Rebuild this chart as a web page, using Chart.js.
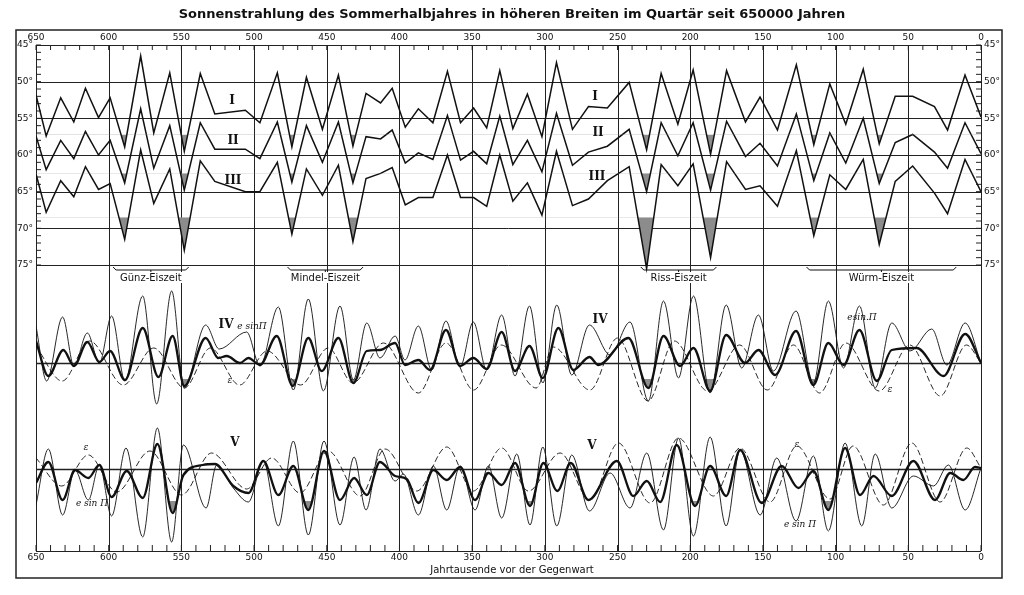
<!DOCTYPE html>
<html><head><meta charset="utf-8">
<script src="https://cdn.jsdelivr.net/npm/chart.js@4.4.1/dist/chart.umd.min.js"></script>
<style>html,body{margin:0;padding:0;background:#fff}#w{width:1024px;height:595px}</style>
</head><body><div id="w"><canvas id="c"></canvas></div>
<script>
const TITLE = "Sonnenstrahlung des Sommerhalbjahres in höheren Breiten im Quartär seit 650000 Jahren";
const X_TITLE = "Jahrtausende vor der Gegenwart";
const xTicks = [650,600,550,500,450,400,350,300,250,200,150,100,50,0];
const latTicks = [45,50,55,60,65,70,75];
const iceAges = [["Günz-Eiszeit",597,545],["Mindel-Eiszeit",477,425],["Riss-Eiszeit",234,182],["Würm-Eiszeit",120,17]];

const tTop = [650,643,633,624,616,607,599,589,578,569,558,548,537,527,506,496,484,474,464,453,442,432,423,413,405,396,387,377,367,358,349,340,331,322,312,302,292,281,270,257,242,230,220,208.5,198,186,175,162,152,140,127,115,104,93,81,70,59,47,32,23,11,0];
const lat1 = [51.8,57.4,52.2,55.5,50.9,54.9,52.2,58.9,46.5,57,48.8,59.5,48.9,54.4,53.9,55.6,48.8,58.9,49.4,56.5,49.1,58.8,51.6,52.9,50.9,56.2,53.7,55.6,48.6,55.6,53.6,56.3,48.5,56.4,51.7,57.5,47.4,56.5,53.4,53.6,50.1,59.3,48.9,55.8,48.4,59.9,48.5,55.5,52.1,56.6,47.7,58.6,50.3,55.8,48.3,58.5,52,52,53.4,56.6,49.1,54.8];
const lat2 = [57.4,62,58,60.5,56.8,60,58,63.8,53.7,61.8,56,64.8,55.6,59.2,59.2,60.5,55.5,63.7,56,61,55.5,63.8,57.5,57.8,56.6,61.1,59.7,60.6,54.6,60.7,59.5,61.2,54.7,61.3,58,62.3,54.3,61.4,59.6,58.8,56.5,65,55.6,60.1,55.6,64.8,55.4,60.2,58.4,61.5,54.4,63.5,57,61.1,55,63.9,58.3,57.2,59.6,61.8,55.6,59.8];
const lat3 = [62.6,67.8,63.5,65.7,61.6,64.7,63.9,71.5,59.3,66.6,61.9,73,60.8,63.6,65,65,61,70.8,61.9,65.5,61.4,71.8,63.2,62.5,61.7,66.8,65.8,65.8,60,65.8,65.8,67,60,66.3,63.8,68.2,59.5,66.9,66,63.5,61.6,75.5,61.3,64.2,61.2,74,60.9,64.7,64.2,67,59.4,71,62.7,64.7,60.6,72.2,63.6,61.5,65.2,68,60.6,65];

const ivThin = [[650,37],[642.7,-18],[631.7,46],[623.9,-3],[614.7,30],[606.4,0],[598,47],[588.8,-18],[576.6,67],[567,-41],[556.7,72],[548,-25],[533.3,38],[524,14],[505.1,31],[495.9,-3],[483.3,56],[473,-27],[462.7,64],[452.3,-28],[440.9,57],[431.7,-17],[422.5,40],[413.4,5],[403,27],[396.2,3],[387,37],[377.8,-7],[368,42],[358.3,-4],[349.2,41],[340,-7],[329.7,48],[320.5,-13],[310.6,57],[301.4,-20],[291.8,58],[281.5,-12],[269.3,38],[255.1,8],[241.4,41],[228.8,-38],[218.4,62],[208.1,-15],[197.8,67],[186.3,-30],[175.3,58],[164.6,-5],[153.1,48],[142.8,-8],[127.2,52],[115.3,-20],[105,62],[94.6,-5],[83.6,57],[72.8,-25],[61.4,40],[48.8,12],[33.9,34],[23.5,-2],[10.9,40],[0,0]];
const ivEps = [[650,17],[632,-18],[613,22],[590,-22],[569,15],[548,-25],[530,15],[510,-22],[491,12],[468,-22],[449,15],[432,-20],[411,20],[387,-30],[368,20],[349,-27],[330,18],[306,-25],[294,16],[269,-27],[250,25],[229,-38],[211,22],[188,-28],[166,18],[147,-27],[129,18],[111,-30],[93,20],[70,-28],[49,18],[28,-33],[10,18],[0,0]];
const ivSum = [[650,22],[641.5,-13],[631.2,13],[623.9,-3],[614.7,21],[606.4,1],[599.1,12],[588.8,-17],[576.6,35],[565.8,-14],[556,27],[548,-23],[533.3,25],[524.6,5],[518.8,7],[509.7,0],[503.9,5],[495.9,-2],[484.4,27],[473.4,-23],[462.7,25],[453.5,-8],[442,25],[431.7,-20],[422.5,12],[413.4,13],[403,20],[396.2,-2],[387,3],[379,-7],[368,33],[358.3,-3],[349.2,5],[340,-6],[329.7,31],[320.5,-8],[310.6,17],[301.4,-15],[290.7,35],[280.4,-7],[269.3,6],[263.2,-2],[242.5,25],[228.8,-25],[218.4,27],[207,-3],[197.8,15],[186.3,-28],[175.3,28],[162.3,0],[153.1,13],[141.6,-12],[127.2,32],[115.3,-22],[105,20],[94.6,-2],[83.6,33],[71.7,-18],[61.4,13],[44.2,15],[25.8,-13],[10.9,29],[0,0]];

const vThin = [[650,-36],[641.5,20],[631.7,-46],[623.2,-1],[614,-31],[606.4,4],[598,-47],[588.1,21],[576.6,-68],[566.5,41],[556.7,-73],[548.6,24],[533,-39],[525.7,4],[514.3,-19],[503.9,-33],[493.6,8],[483.3,-57],[473,28],[462.7,-66],[451.9,28],[440.9,-56],[431.2,12],[423,-41],[413.4,20],[403,-12],[397.3,-5],[387,-46],[376.7,3],[367.5,-41],[358.3,3],[348,-41],[338.8,3],[329.7,-49],[319.3,15],[310.2,-56],[301.4,22],[291.8,-57],[281.5,14],[269.3,-42],[255.1,-4],[241.4,-39],[229.9,16],[218.4,-61],[208.1,31],[197.8,-67],[186.3,32],[175.3,-57],[165.7,19],[151.9,-46],[140.5,11],[127.2,-52],[115.3,13],[105,-62],[93.5,26],[82,-57],[72.8,15],[61.4,-39],[46.5,-7],[32.7,-17],[22.4,4],[10.9,-41],[0,1]];
const vEps = [[650,11],[632.3,-17],[614,14],[594.5,-23],[571.6,18],[549.8,-26],[529.2,16],[505.1,-20],[487.9,11],[468.4,-24],[449,18],[427.1,-27],[409.9,20],[388.1,-22],[367.5,22],[349.2,-22],[329.7,21],[311.3,-22],[289.5,16],[268.9,-31],[249.4,26],[227.6,-34],[208.1,31],[184,-27],[165.7,21],[145.1,-33],[126.7,23],[103.8,-30],[88,23],[67.1,-36],[47.6,26],[28.1,-33],[9.8,21],[0,1]];
const vSum = [[650,-14],[641.5,7],[631.7,-31],[623.2,-1],[614,-9],[606.4,4],[598,-28],[587.6,-2],[576.6,-29],[566.5,25],[556,-44],[548.6,-6],[535.3,4],[526.9,5],[514.3,-17],[503.9,-24],[493.6,8],[483.3,-26],[473,3],[462.7,-41],[451.9,18],[440.9,-31],[431.2,-9],[422.5,-26],[413.4,7],[403,-7],[395,-10],[387,-34],[376.7,-1],[367.5,-11],[358.3,2],[348,-31],[338.8,-4],[329.7,-16],[320.5,6],[310.2,-37],[301,6],[291.4,-22],[282.2,6],[270,-31],[250.5,8],[239.1,-27],[229.9,-12],[220.7,-33],[209.3,24],[196.7,-37],[186.3,3],[175.3,-27],[165.7,19],[150.8,-34],[137.1,3],[125.6,-19],[115.3,-2],[105,-41],[93.5,21],[83.2,-26],[74,-7],[61.4,-27],[46.5,8],[31.6,-31],[21.2,-4],[12.1,-11],[4.1,2],[0,1]];

const P = a => a.map(p => ({x:p[0], y:p[1]}));
const topPts = (arr) => tTop.map((t,i)=>({x:t,y:arr[i]}));
const hatch = '#8c8c8c';
function topDs(arr, thr){ return {data:topPts(arr), yAxisID:'yT', borderColor:'#111', borderWidth:1.5, pointRadius:0, tension:0,
  fill:{target:{value:thr}, above:'rgba(0,0,0,0)', below:hatch}}; }
function smooth(arr, axis, w, dash, fill){ const d={data:P(arr), yAxisID:axis, borderColor:'#111', borderWidth:w, borderDash:dash||[], pointRadius:0, cubicInterpolationMode:'monotone', fill:false};
  if(fill!==undefined) d.fill={target:{value:fill}, above:'rgba(0,0,0,0)', below:hatch}; return d; }

const deco = {
  id:'deco',
  beforeDatasetsDraw(ch){
    const c=ch.ctx, x=ch.scales.x, yT=ch.scales.yT, yI=ch.scales.yI, yV=ch.scales.yV, a=ch.chartArea;
    c.save(); c.strokeStyle='#222'; c.lineWidth=1;
    const L=a.left, R=a.right;
    xTicks.forEach(t=>{const px=Math.round(x.getPixelForValue(t))+0.5; c.beginPath(); c.moveTo(px,a.top); c.lineTo(px,a.bottom); c.stroke();});
    latTicks.forEach(v=>{const py=Math.round(yT.getPixelForValue(v))+0.5; c.beginPath(); c.moveTo(L,py); c.lineTo(R,py); c.stroke();});
    [yI,yV].forEach(s=>{const py=Math.round(s.getPixelForValue(0))+0.5; c.lineWidth=1.3; c.beginPath(); c.moveTo(L,py); c.lineTo(R,py); c.stroke();});
    c.lineWidth=1;
    c.beginPath(); c.moveTo(L,a.bottom+0.5); c.lineTo(R,a.bottom+0.5); c.stroke();
    for(let t=0;t<=650;t+=10){const px=x.getPixelForValue(t); c.beginPath(); c.moveTo(px,a.top); c.lineTo(px,a.top+5); c.stroke(); c.beginPath(); c.moveTo(px,a.bottom); c.lineTo(px,a.bottom-6); c.stroke();}
    for(let v=45;v<=75;v++){const py=yT.getPixelForValue(v); c.beginPath(); c.moveTo(L,py); c.lineTo(L+5,py); c.moveTo(R,py); c.lineTo(R-5,py); c.stroke();}
    c.lineWidth=1.5; c.strokeRect(16,30,986,548);
    c.restore();
  },
  afterDatasetsDraw(ch){
    const c=ch.ctx, x=ch.scales.x, yT=ch.scales.yT, a=ch.chartArea;
    c.save(); c.fillStyle='#111'; c.strokeStyle='#111';
    c.font='bold 13px "DejaVu Sans"'; c.textAlign='center'; c.textBaseline='middle';
    c.fillText(TITLE, 512, 15);
    c.font='9px "DejaVu Sans"';
    xTicks.forEach(t=>{const px=x.getPixelForValue(t); c.fillText(String(t),px,38); c.fillText(String(t),px,558);});
    c.font='10px "DejaVu Sans"'; c.fillText(X_TITLE, 512, 570);
    c.font='9px "DejaVu Sans"';
    latTicks.forEach(v=>{const py=yT.getPixelForValue(v); c.textAlign='right'; c.fillText(v+'°',a.left-3,py); c.textAlign='left'; c.fillText(v+'°',a.right+3,py);});
    c.textAlign='center'; c.lineWidth=1; c.font='10px "DejaVu Sans"';
    iceAges.forEach(([n,t0,t1])=>{const p0=x.getPixelForValue(t0), p1=x.getPixelForValue(t1), y=270;
      c.beginPath(); c.moveTo(p0,y-3); c.lineTo(p0+3,y); c.lineTo(p1-3,y); c.lineTo(p1,y-3); c.moveTo((p0+p1)/2,y); c.lineTo((p0+p1)/2,y+3); c.stroke();
      c.fillStyle='#fff'; const w=c.measureText(n).width; c.fillRect((p0+p1)/2-w/2-1,272,w+2,11); c.fillStyle='#111'; c.fillText(n,(p0+p1)/2,278);});
    c.font='bold 12px "DejaVu Serif"';
    [['I',232,101],['II',233,141],['III',233,181],['I',595,97],['II',598,133],['III',597,177],['IV',226,325],['IV',600,320],['V',235,443],['V',592,446]].forEach(l=>c.fillText(l[0],l[1],l[2]));
    c.font='italic 9px "DejaVu Serif"';
    [['e sinΠ',252,327],['ε',230,381],['esin.Π',862,318],['ε',890,390],['ε',86,448],['e sin Π',92,504],['ε',797,445],['e sin Π',800,525]].forEach(l=>c.fillText(l[0],l[1],l[2]));
    c.restore();
  }
};

new Chart(document.getElementById('c'), {
  type:'line',
  data:{datasets:[
    topDs(lat1,57.2), topDs(lat2,62.5), topDs(lat3,68.5),
    smooth(ivThin,'yI',0.9), smooth(ivEps,'yI',0.9,[6,3]), smooth(ivSum,'yI',2.3,[],-16),
    smooth(vThin,'yV',0.9), smooth(vEps,'yV',0.9,[6,3]), smooth(vSum,'yV',2.3,[],-32)
  ]},
  options:{
    responsive:true, maintainAspectRatio:false, animation:false,
    layout:{padding:{left:36,right:43,top:45,bottom:44}},
    plugins:{legend:{display:false}, tooltip:{enabled:false}},
    scales:{
      x:{type:'linear', reverse:true, min:0, max:650, display:false},
      yT:{type:'linear', reverse:true, min:45, max:114, display:false},
      yI:{type:'linear', min:-188, max:318, display:false},
      yV:{type:'linear', min:-82, max:424, display:false}
    }
  },
  plugins:[deco]
});
</script></body></html>
